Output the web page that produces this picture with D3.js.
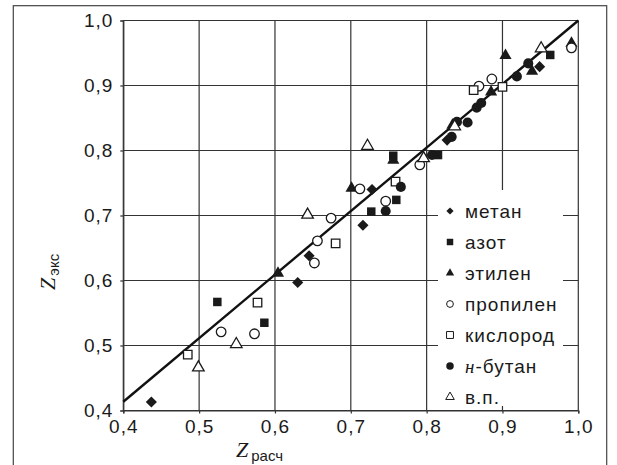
<!DOCTYPE html>
<html>
<head>
<meta charset="utf-8">
<script src="https://cdn.jsdelivr.net/npm/d3@7"></script>
<style>
  body { margin: 0; background: #fff; }
  svg { display: block; }
</style>
</head>
<body>
<div id="chart"></div>
<script>
// axis ticks
const xTicks = [0.4, 0.5, 0.6, 0.7, 0.8, 0.9, 1.0];
const yTicks = [0.4, 0.5, 0.6, 0.7, 0.8, 0.9, 1.0];

// regression line end points
const fitLine = [[0.4, 0.4135], [1.0, 1.0]];

// [Z расч, Z экс] per gas
const metan = [[0.437, 0.413], [0.630, 0.597], [0.645, 0.638], [0.716, 0.685], [0.728, 0.740], [0.827, 0.816], [0.949, 0.929]];
const azot = [[0.524, 0.567], [0.586, 0.535], [0.727, 0.706], [0.760, 0.724], [0.756, 0.792], [0.815, 0.793], [0.963, 0.947]];
const etilen = [[0.604, 0.611], [0.701, 0.742], [0.756, 0.785], [0.834, 0.839], [0.885, 0.890], [0.904, 0.946], [0.939, 0.922], [0.991, 0.965]];
const propilen = [[0.529, 0.521], [0.573, 0.518], [0.652, 0.627], [0.656, 0.661], [0.674, 0.696], [0.712, 0.741], [0.746, 0.722], [0.791, 0.778], [0.869, 0.899], [0.886, 0.910], [0.991, 0.958]];
const kislorod = [[0.485, 0.486], [0.577, 0.566], [0.680, 0.657], [0.759, 0.752], [0.862, 0.893], [0.900, 0.898]];
const butan = [[0.746, 0.707], [0.766, 0.744], [0.807, 0.793], [0.833, 0.821], [0.840, 0.844], [0.854, 0.843], [0.866, 0.866], [0.872, 0.873], [0.919, 0.914], [0.934, 0.934]];
const vp = [[0.499, 0.466], [0.549, 0.502], [0.643, 0.701], [0.722, 0.807], [0.796, 0.788], [0.837, 0.837], [0.951, 0.957]];

const seriesNames = ['метан', 'азот', 'этилен', 'пропилен', 'кислород', 'н-бутан', 'в.п.'];
const seriesData = [metan, azot, etilen, propilen, kislorod, butan, vp];

const W = 617, H = 465;
const margin = { top: 20.5, left: 123.3, right: 38.7, bottom: 54.5 };
const width = W - margin.left - margin.right;
const height = H - margin.top - margin.bottom;
const ink = '#1a1a1a';

// marker styles: shape + filled
const markerDefs = [
  { type: d3.symbolSquare, filled: true, size: 62, rotate: 45, legSize: 26 },
  { type: d3.symbolSquare, filled: true, size: 72, rotate: 0, legSize: 42 },
  { type: d3.symbolTriangle, filled: true, size: 64, rotate: 0, legSize: 30 },
  { type: d3.symbolCircle, filled: false, size: 72, rotate: 0, legSize: 36 },
  { type: d3.symbolSquare, filled: false, size: 72, rotate: 0, legSize: 48 },
  { type: d3.symbolCircle, filled: true, size: 80, rotate: 0, legSize: 44 },
  { type: d3.symbolTriangle, filled: false, size: 58, rotate: 0, legSize: 32 }
];

const svg = d3.select('#chart').append('svg')
  .attr('width', W)
  .attr('height', H);

// outer frame
svg.append('rect')
  .attr('x', 13.3).attr('y', 5.7)
  .attr('width', 593.4).attr('height', H + 10)
  .attr('fill', 'none')
  .attr('stroke', '#444')
  .attr('stroke-width', 1.2);

const g = svg.append('g')
  .attr('transform', `translate(${margin.left},${margin.top})`);

const x = d3.scaleLinear().domain([0.4, 1.0]).range([0, width]);
const y = d3.scaleLinear().domain([0.4, 1.0]).range([height, 0]);
const fmt = d => d.toFixed(1).replace('.', ',');

// grid
g.append('g').selectAll('line')
  .data(xTicks)
  .enter().append('line')
  .attr('x1', d => x(d)).attr('x2', d => x(d))
  .attr('y1', 0).attr('y2', height)
  .attr('stroke', '#333').attr('stroke-width', 1.2);

g.append('g').selectAll('line')
  .data(yTicks)
  .enter().append('line')
  .attr('x1', 0).attr('x2', width)
  .attr('y1', d => y(d)).attr('y2', d => y(d))
  .attr('stroke', '#333').attr('stroke-width', 1.2);

// axes
const xAxis = g.append('g')
  .attr('transform', `translate(0,${height})`)
  .call(d3.axisBottom(x).tickValues(xTicks).tickFormat(fmt).tickSize(3).tickPadding(6));
const yAxis = g.append('g')
  .call(d3.axisLeft(y).tickValues(yTicks).tickFormat(fmt).tickSize(3).tickPadding(7));

[xAxis, yAxis].forEach(ax => {
  ax.select('.domain').attr('stroke', '#333').attr('stroke-width', 1.2);
  ax.selectAll('.tick line').attr('stroke', '#333').attr('stroke-width', 1.2);
  ax.selectAll('.tick text')
    .attr('fill', ink)
    .style('font-family', '"Liberation Sans", Arial, sans-serif')
    .style('font-size', '19px')
    .style('letter-spacing', '1px');
});

// legend box (white, covers grid)
const leg = g.append('g')
  .attr('transform', `translate(${438 - margin.left},${190 - margin.top})`);
leg.append('rect')
  .attr('width', 125).attr('height', 216)
  .attr('fill', '#fff');

const legItems = leg.selectAll('.leg')
  .data(seriesNames)
  .enter().append('g')
  .attr('transform', (d, i) => `translate(12,${21 + i * 31})`);

legItems.append('path')
  .attr('d', (d, i) => d3.symbol().type(markerDefs[i].type).size(markerDefs[i].legSize)())
  .attr('transform', (d, i) => `rotate(${markerDefs[i].rotate})`)
  .attr('fill', (d, i) => markerDefs[i].filled ? ink : '#fff')
  .attr('stroke', ink)
  .attr('stroke-width', (d, i) => markerDefs[i].filled ? 0 : 1);

const legText = legItems.append('text')
  .attr('x', 15)
  .attr('dy', '0.36em')
  .attr('fill', ink)
  .style('font-family', '"Liberation Sans", Arial, sans-serif')
  .style('font-size', '19px')
  .style('letter-spacing', '1px');

legText.each(function (d) {
  const t = d3.select(this);
  if (d.startsWith('н-')) {
    t.append('tspan')
      .style('font-family', '"Liberation Serif", "Times New Roman", serif')
      .style('font-style', 'italic')
      .text('н');
    t.append('tspan').text(d.slice(1));
  } else {
    t.text(d);
  }
});

// fit line
g.append('path')
  .datum(fitLine)
  .attr('fill', 'none')
  .attr('stroke', '#111')
  .attr('stroke-width', 2.4)
  .attr('d', d3.line().x(d => x(d[0])).y(d => y(d[1])));

// markers
seriesData.forEach((data, i) => {
  const m = markerDefs[i];
  g.append('g').selectAll('path')
    .data(data)
    .enter().append('path')
    .attr('d', d3.symbol().type(m.type).size(m.size)())
    .attr('transform', d => `translate(${x(d[0])},${y(d[1])}) rotate(${m.rotate})`)
    .attr('fill', m.filled ? ink : '#fff')
    .attr('stroke', ink)
    .attr('stroke-width', m.filled ? 0 : 1.3);
});

// axis titles
const xTitle = svg.append('text')
  .attr('x', 236).attr('y', 457)
  .attr('fill', ink);
xTitle.append('tspan')
  .style('font-family', '"Liberation Serif", "Times New Roman", serif')
  .style('font-style', 'italic')
  .style('font-size', '22px')
  .text('Z');
xTitle.append('tspan')
  .attr('dx', 3).attr('dy', 4)
  .style('font-family', '"Liberation Sans", Arial, sans-serif')
  .style('font-size', '15px')
  .text('расч');

const yTitle = svg.append('text')
  .attr('transform', 'translate(55,290) rotate(-90)')
  .attr('fill', ink);
yTitle.append('tspan')
  .style('font-family', '"Liberation Serif", "Times New Roman", serif')
  .style('font-style', 'italic')
  .style('font-size', '22px')
  .text('Z');
yTitle.append('tspan')
  .attr('dx', 2).attr('dy', 4)
  .style('font-family', '"Liberation Sans", Arial, sans-serif')
  .style('font-size', '15px')
  .text('экс');
</script>
</body>
</html>
